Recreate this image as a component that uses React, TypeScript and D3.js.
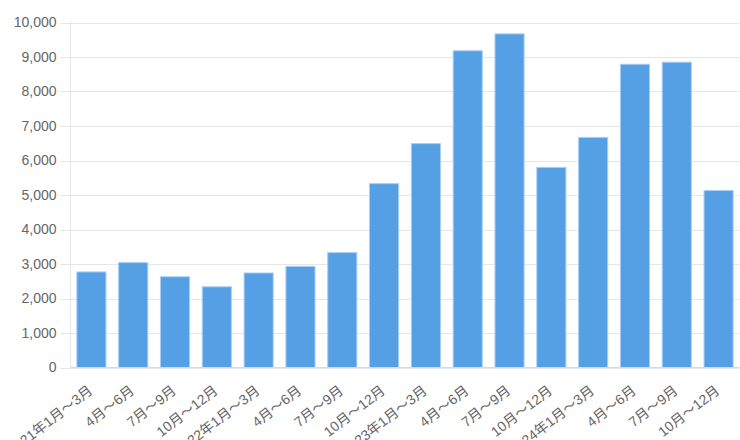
import React from "react";
import * as d3 from "d3";

const categories = [
  "2021年1月～3月", "4月～6月", "7月～9月", "10月～12月",
  "2022年1月～3月", "4月～6月", "7月～9月", "10月～12月",
  "2023年1月～3月", "4月～6月", "7月～9月", "10月～12月",
  "2024年1月～3月", "4月～6月", "7月～9月", "10月～12月",
];
const values = [2770, 3040, 2630, 2340, 2740, 2930, 3330, 5330, 6490, 9180, 9670, 5800, 6670, 8790, 8850, 5130];
const yTicks = [0, 1000, 2000, 3000, 4000, 5000, 6000, 7000, 8000, 9000, 10000];

const W = 740, H = 440;
const left = 70.5, right = 739.5, top = 22.5, bottom = 367.5;
const cjk = "'Noto Sans CJK JP', sans-serif";

function Label({ text }: { text: string }) {
  const parts = text.split(/(～)/).filter((p) => p.length > 0);
  return (
    <>
      {parts.map((p, k) =>
        p === "～" ? <tspan key={k} fontFamily={cjk}>{p}</tspan> : <tspan key={k}>{p}</tspan>
      )}
    </>
  );
}

export default function App() {
  const x = d3.scaleBand<number>().domain(d3.range(categories.length)).range([left, right]).paddingInner(0.28).paddingOuter(0.14);
  const band = d3.scaleBand<number>().domain(d3.range(categories.length)).range([left, right]);
  const y = d3.scaleLinear().domain([0, 10000]).range([bottom, top]);
  const fmt = d3.format(",");
  const font = "'Liberation Sans', Arial, Helvetica, 'Noto Sans CJK JP', sans-serif";
  return (
    <svg width={W} height={H} style={{ position: "absolute", left: 0, top: 0 }} fontFamily={font}>
      {yTicks.map((t) => (
        <g key={t}>
          <line x1={left - 10} x2={right} y1={Math.round(y(t)) + 0.5} y2={Math.round(y(t)) + 0.5} stroke="#e6e6e6" strokeWidth={1} />
          <text x={left - 14} y={y(t)} dy="0.35em" textAnchor="end" fontSize={14} fill="#666">{fmt(t)}</text>
        </g>
      ))}
      <line x1={left} x2={left} y1={top - 1} y2={bottom + 1} stroke="#e6e6e6" />
      {values.map((v, i) => (
        <rect key={i} x={x(i)! + 0.5} y={y(v)} width={x.bandwidth() - 1} height={bottom - y(v)} fill="#559fe4" stroke="#a9cff3" strokeWidth={1} />
      ))}
      <line x1={left} x2={right} y1={bottom} y2={bottom} stroke="#d9d9d9" />
      {categories.map((c, i) => {
        const cx = band(i)! + band.bandwidth() / 2;
        return (
          <text key={i} transform={`translate(${cx - 1},${bottom + 21}) rotate(-38)`} textAnchor="end" dy="0.35em" fontSize={14} fill="#666">
            <Label text={c} />
          </text>
        );
      })}
    </svg>
  );
}
